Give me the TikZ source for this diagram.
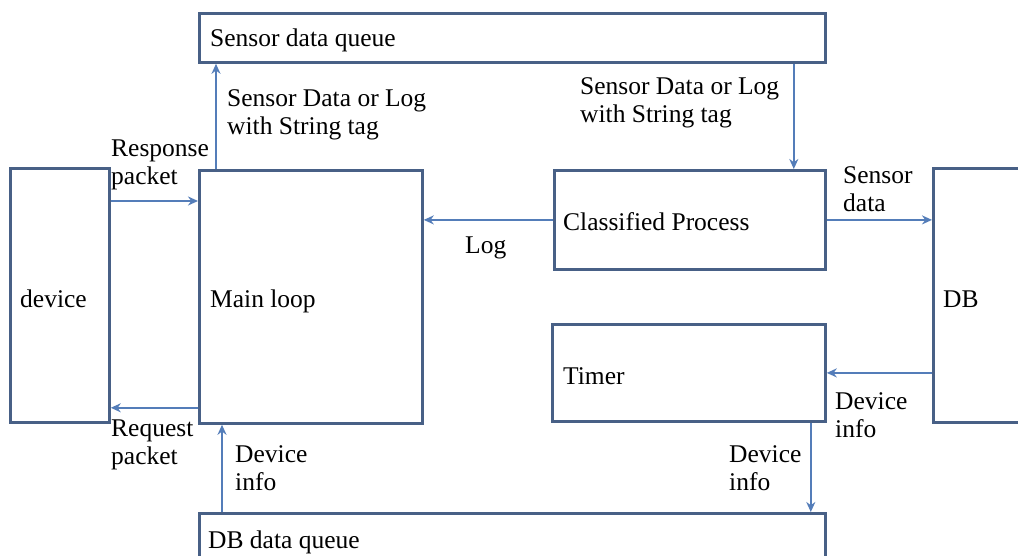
\documentclass[tikz,border=0pt]{standalone}
\usepackage{fontspec}
\setmainfont{Liberation Serif}
\usetikzlibrary{arrows.meta}
\definecolor{boxline}{RGB}{72,96,134}
\definecolor{arrowline}{RGB}{84,125,185}
\tikzset{
  box/.style={draw=boxline, line width=2.8pt, rectangle, inner sep=0pt, anchor=north west},
  arr/.style={draw=arrowline, line width=2.2pt, -{Stealth[length=10pt,width=9pt]}},
  lbl/.style={anchor=west, inner sep=0pt, align=left, text=black,
    font=\fontsize{25.5}{28.5}\selectfont},
}
\begin{document}
\begin{tikzpicture}[x=1pt, y=-1pt]
  \useasboundingbox (0,0) rectangle (1018,556);
  \clip (0,0) rectangle (1018,556);
  \fill[white] (0,0) rectangle (1018,556);

  % boxes
  \node[box, minimum width=99pt,  minimum height=254pt] (dev)  at (9,167) {};
  \node[box, minimum width=223pt, minimum height=253pt] (main) at (198,169) {};
  \node[box, minimum width=626pt, minimum height=49pt]  (sdq)  at (198,12) {};
  \node[box, minimum width=271pt, minimum height=99pt]  (cls)  at (553,169) {};
  \node[box, minimum width=273pt, minimum height=97pt]  (tim)  at (551,323) {};
  \node[box, minimum width=120pt, minimum height=254pt] (db)   at (932,167) {};
  \node[box, minimum width=626pt, minimum height=80pt]  (dbq)  at (198,512) {};

  % box texts
  \node[lbl] (tsdq) at (210,40)  {Sensor data queue};
  \node[lbl] (tdev) at (20,299)  {device};
  \node[lbl] (tmain) at (210,301) {Main loop};
  \node[lbl] (tcls) at (563,222) {Classified Process};
  \node[lbl] (ttim) at (563,376) {Timer};
  \node[lbl] (tdb)  at (943,299) {DB};
  \node[lbl] (tdbq) at (208,542) {DB data queue};

  % attachment points on the box edges
  \coordinate (mUp)   at ([xshift=18pt]main.north west);
  \coordinate (cIn)   at ([xshift=-33pt]cls.north east);
  \coordinate (mResp) at ([yshift=-32pt]main.north west);
  \coordinate (mReq)  at ([yshift=17pt]main.south west);
  \coordinate (tOut)  at ([xshift=-16pt]tim.south east);
  \coordinate (mIn)   at ([xshift=24pt]main.south west);

  % connectors
  \draw[arr] (mUp) -- (mUp |- sdq.south);
  \draw[arr] (cIn |- sdq.south) -- (cIn);
  \draw[arr] (dev.east |- mResp) -- (mResp);
  \draw[arr] (mReq) -- (dev.east |- mReq);
  \draw[arr] (cls.west) -- (main.east |- cls.west);
  \draw[arr] (cls.east) -- (db.west |- cls.east);
  \draw[arr] (db.west |- tim.east) -- (tim.east);
  \draw[arr] (tOut) -- (tOut |- dbq.north);
  \draw[arr] (mIn |- dbq.north) -- (mIn);

  % connector labels
  \node[lbl] (l1) at (227,115) {Sensor Data or Log\\with String tag};
  \node[lbl] (l2) at (580,103) {Sensor Data or Log\\with String tag};
  \node[lbl] (l3) at (111,165) {Response\\packet};
  \node[lbl] (l4) at (111,445) {Request\\packet};
  \node[lbl] (l5) at (465,248) {Log};
  \node[lbl] (l6) at (843,189) {Sensor\\data};
  \node[lbl] (l7) at (835,415) {Device\\info};
  \node[lbl] (l8) at (729,468) {Device\\info};
  \node[lbl] (l9) at (235,468) {Device\\info};
\end{tikzpicture}
\end{document}
